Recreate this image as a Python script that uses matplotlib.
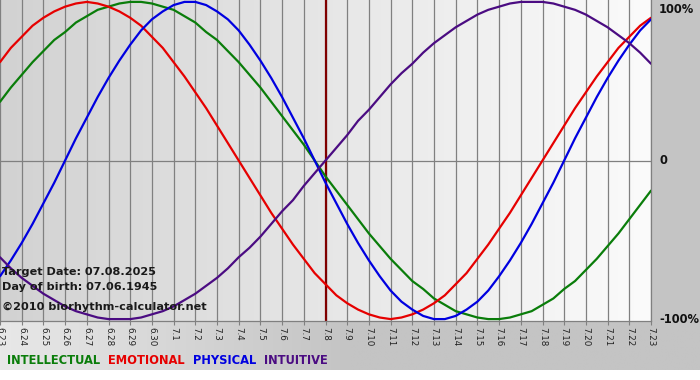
import numpy as np
import matplotlib
matplotlib.use("Agg")
import matplotlib.pyplot as plt

# days shown on the x axis (month.day)
day_labels = ["6.23", "6.24", "6.25", "6.26", "6.27", "6.28", "6.29", "6.30",
              "7.1", "7.2", "7.3", "7.4", "7.5", "7.6", "7.7", "7.8", "7.9",
              "7.10", "7.11", "7.12", "7.13", "7.14", "7.15", "7.16", "7.17",
              "7.18", "7.19", "7.20", "7.21", "7.22", "7.23"]
target_label = "7.8"

# cycle values (-1 .. 1) every half day, starting at 6.23
sample_step = 0.5
intellectual = [0.37, 0.46, 0.54, 0.62, 0.69, 0.76, 0.81, 0.87, 0.91, 0.95,
                0.97, 0.99, 1.00, 1.00, 0.99, 0.97, 0.95, 0.91, 0.87, 0.81,
                0.76, 0.69, 0.62, 0.54, 0.46, 0.37, 0.28, 0.19, 0.10, 0.00,
                -0.10, -0.19, -0.28, -0.37, -0.46, -0.54, -0.62, -0.69, -0.76, -0.81,
                -0.87, -0.91, -0.95, -0.97, -0.99, -1.00, -1.00, -0.99, -0.97, -0.95,
                -0.91, -0.87, -0.81, -0.76, -0.69, -0.62, -0.54, -0.46, -0.37, -0.28,
                -0.19]
emotional = [0.62, 0.71, 0.78, 0.85, 0.90, 0.94, 0.97, 0.99, 1.00, 0.99,
             0.97, 0.94, 0.90, 0.85, 0.78, 0.71, 0.62, 0.53, 0.43, 0.33,
             0.22, 0.11, 0.00, -0.11, -0.22, -0.33, -0.43, -0.53, -0.62, -0.71,
             -0.78, -0.85, -0.90, -0.94, -0.97, -0.99, -1.00, -0.99, -0.97, -0.94,
             -0.90, -0.85, -0.78, -0.71, -0.62, -0.53, -0.43, -0.33, -0.22, -0.11,
             0.00, 0.11, 0.22, 0.33, 0.43, 0.53, 0.62, 0.71, 0.78, 0.85,
             0.90]
physical = [-0.73, -0.63, -0.52, -0.40, -0.27, -0.14, 0.00, 0.14, 0.27, 0.40,
            0.52, 0.63, 0.73, 0.82, 0.89, 0.94, 0.98, 1.00, 1.00, 0.98,
            0.94, 0.89, 0.82, 0.73, 0.63, 0.52, 0.40, 0.27, 0.14, 0.00,
            -0.14, -0.27, -0.40, -0.52, -0.63, -0.73, -0.82, -0.89, -0.94, -0.98,
            -1.00, -1.00, -0.98, -0.94, -0.89, -0.82, -0.73, -0.63, -0.52, -0.40,
            -0.27, -0.14, 0.00, 0.14, 0.27, 0.40, 0.52, 0.63, 0.73, 0.82,
            0.89]
intuitive = [-0.61, -0.68, -0.74, -0.79, -0.84, -0.88, -0.92, -0.95, -0.97, -0.99,
             -1.00, -1.00, -1.00, -0.99, -0.97, -0.95, -0.92, -0.88, -0.84, -0.79,
             -0.74, -0.68, -0.61, -0.55, -0.48, -0.40, -0.32, -0.25, -0.16, -0.08,
             0.00, 0.08, 0.16, 0.25, 0.32, 0.40, 0.48, 0.55, 0.61, 0.68,
             0.74, 0.79, 0.84, 0.88, 0.92, 0.95, 0.97, 0.99, 1.00, 1.00,
             1.00, 0.99, 0.97, 0.95, 0.92, 0.88, 0.84, 0.79, 0.74, 0.68,
             0.61]

series_names = ["INTELLECTUAL", "EMOTIONAL", "PHYSICAL", "INTUITIVE"]
series_colors = ["#0a7d0a", "#e60000", "#0000e0", "#4b0c82"]

info_lines = ["Target Date: 07.08.2025", "Day of birth: 07.06.1945",
              "\u00a92010 biorhythm-calculator.net"]

W, H = 700, 380
fig = plt.figure(figsize=(W / 100, H / 100), dpi=100)
fig.patch.set_facecolor("#c4c4c4")

# bottom panel gradient (light on the left, gray on the right) + white strip
grad = np.linspace(0, 1, 256)[None, :]
bg = fig.add_axes([0, 10 / H, 1, 50 / H])
bg.imshow(grad, aspect="auto", extent=[0, 1, 0, 1],
          cmap=matplotlib.colors.LinearSegmentedColormap.from_list(
              "b", ["#e8e8e8", "#c4c4c4", "#c4c4c4"]))
bg.set_axis_off()
strip = fig.add_axes([0, 0, 1, 10 / H])
strip.set_facecolor("white")
strip.set_xticks([])
strip.set_yticks([])
for s in strip.spines.values():
    s.set_visible(False)

ax = fig.add_axes([0, 59 / H, 651 / W, 321 / H])
x = np.arange(len(day_labels))
n = len(day_labels) - 1
ylim = 1.012
ax.imshow(grad, aspect="auto", extent=[0, n, -ylim, ylim], zorder=0,
          cmap=matplotlib.colors.LinearSegmentedColormap.from_list(
              "p", ["#d2d2d2", "#fbfbfb"]))
ax.set_xlim(0, n)
ax.set_ylim(-ylim, ylim)

for xi in x:
    ax.axvline(xi, color="#808080", lw=0.9, zorder=1)
ax.axhline(0, color="#808080", lw=0.9, zorder=1)
ax.axvline(day_labels.index(target_label), color="#800000", lw=1.6, zorder=2)

for vals, c in zip([intellectual, emotional, physical, intuitive], series_colors):
    xs = np.arange(len(vals)) * sample_step
    ax.plot(xs, vals, color=c, lw=1.6, zorder=3, solid_capstyle="round")

for t, ypix in zip(info_lines, [272, 287, 307]):
    ax.text(2 / 651, (321 - ypix) / 321, t, transform=ax.transAxes,
            fontsize=8.1, fontweight="bold", color="#1a1a1a", va="center",
            ha="left", zorder=4)

ax.set_xticks(x)
ax.set_xticklabels(day_labels, rotation=-90, fontsize=6.3, color="#222222")
ax.tick_params(axis="x", length=3, color="#808080", pad=1)
ax.set_yticks([])
for side in ["top", "left"]:
    ax.spines[side].set_visible(False)
for side in ["right", "bottom"]:
    ax.spines[side].set_color("#808080")
    ax.spines[side].set_linewidth(0.9)

for label, yy in [("100%", 0.955), ("0", 0.0), ("-100%", -1.0)]:
    ax.text(1 + 8 / 651, yy, label, transform=ax.get_yaxis_transform(),
            fontsize=8.3, fontweight="bold", color="#111111", va="center",
            ha="left", clip_on=False)

xpos = 7
for name, c in zip(series_names, series_colors):
    t = fig.text(xpos / W, (380 - 361) / H, name, fontsize=8.3, fontweight="bold",
                 color=c, va="center", ha="left")
    fig.canvas.draw()
    bb = t.get_window_extent()
    xpos = bb.x1 + 8

fig.savefig("out.png", dpi=100, facecolor=fig.get_facecolor())
